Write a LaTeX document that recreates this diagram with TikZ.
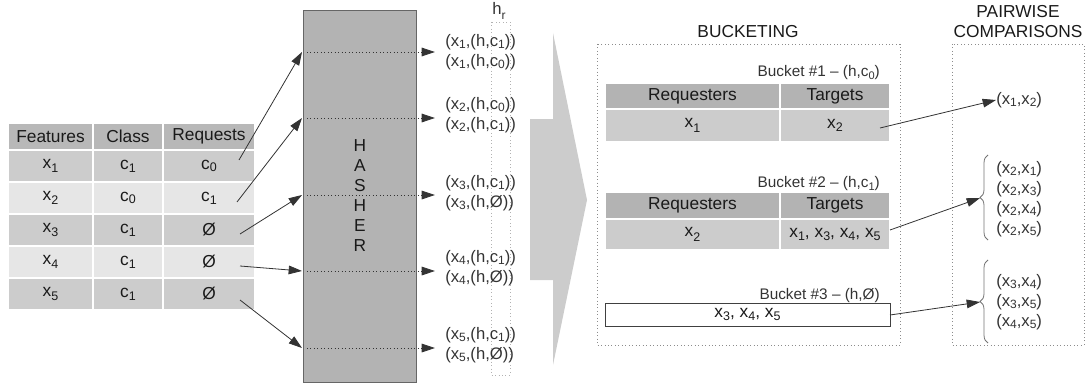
\documentclass[tikz,border=0pt]{standalone}
\usepackage{fontspec}
\setmainfont{Liberation Sans}
\usetikzlibrary{arrows.meta,decorations.pathreplacing}
\newcommand\subx[1]{\raisebox{-0.5ex}{\scalebox{0.72}{#1}}}
\newcommand\subo[1]{\raisebox{-0.3ex}{\scalebox{0.72}{#1}}}
\definecolor{hdr}{HTML}{B8B8B8}
\definecolor{rowa}{HTML}{CCCCCC}
\definecolor{rowb}{HTML}{E6E6E6}
\definecolor{hashfill}{HTML}{B3B3B3}
\definecolor{ink}{HTML}{1A1A1A}
\definecolor{lineink}{HTML}{333333}
\begin{document}
\begin{tikzpicture}[x=0.75pt,y=-0.75pt,
  cell/.style 2 args={minimum width=#1*0.75pt, minimum height=#2*0.75pt, inner sep=0pt,
    draw=white, line width=1pt, text=ink, font=\fontsize{13}{15}\selectfont},
  txt/.style={inner sep=0pt, text=lineink, font=\fontsize{12.5}{15}\selectfont},
  blabel/.style={inner sep=0pt, anchor=east, text=lineink, font=\fontsize{11.5}{14}\selectfont},
  title/.style={inner sep=0pt, text=ink, font=\fontsize{13}{15}\selectfont},
  arr/.style={draw=lineink, line width=0.6pt, -{Triangle[length=10pt,width=6.5pt]}},
  darr/.style={draw=lineink, line width=0.6pt, dotted, -{Triangle[length=10pt,width=6.5pt]}},
  frame/.style={draw=black!45, dotted, line width=0.6pt},
  brc/.style={draw=black!55, line width=0.6pt, decorate, decoration={brace, amplitude=6pt}}
]
\useasboundingbox (0,0) rectangle (1087,385);

% ---------- input table ----------
\node[cell={85}{27}, fill=hdr] (h1) at (50.5,136.5) {Features};
\node[cell={70}{27}, fill=hdr] (h2) at (128,136.5) {Class};
\node[cell={92}{27}, fill=hdr] (h3) at (209,136.5) {Requests};
\foreach \i/\y/\f/\c/\r in {1/166/rowa/c\subo{1}/c\subo{0},
                            2/198/rowb/c\subo{0}/c\subo{1},
                            3/230/rowa/c\subo{1}/Ø,
                            4/262/rowb/c\subo{1}/Ø,
                            5/294/rowa/c\subo{1}/Ø}{
  \node[cell={85}{32}, fill=\f] (f\i) at (50.5,\y) {x\subx{\i}};
  \node[cell={70}{32}, fill=\f] (c\i) at (128,\y) {\c};
  \node[cell={92}{32}, fill=\f] (r\i) at (209,\y) {\r};
}

% ---------- hasher ----------
\node[draw=black!60, fill=hashfill, line width=0.6pt, minimum width=113*0.75pt,
      minimum height=372*0.75pt, inner sep=0pt] (hasher) at (359.5,196) {};
\node[title, align=center, font=\fontsize{13}{15}\selectfont] (hlab) at (360,196)
  {H\\A\\S\\H\\E\\R};

% coordinates
\coordinate (s1) at (239,160); \coordinate (s2) at (237,202);
\coordinate (s3) at (240,234); \coordinate (s4) at (240,266);
\coordinate (s5) at (240,300);
\foreach \i/\y in {1/52,2/118,3/195,4/271,5/348}{
  \coordinate (e\i) at (302,\y);
  \coordinate (d\i) at (307,\y);
  \coordinate (o\i) at (435,\y);
}
\foreach \i in {1,...,5}{
  \draw[arr] (s\i) -- (e\i);
  \draw[darr] (d\i) -- (o\i);
}

% ---------- hashed outputs ----------
\draw[draw=black!30, dotted, line width=0.6pt] (491,22) rectangle (510,375);
\node[txt] (hr) at (499,11) {h\subx{r}};
\node[txt, anchor=west, align=left] (p1) at (445,52)
  {(x\subo{1},(h,c\subo{1}))\\(x\subo{1},(h,c\subo{0}))};
\node[txt, anchor=west, align=left] (p2) at (445,115)
  {(x\subo{2},(h,c\subo{0}))\\(x\subo{2},(h,c\subo{1}))};
\node[txt, anchor=west, align=left] (p3) at (445,193)
  {(x\subo{3},(h,c\subo{1}))\\(x\subo{3},(h,Ø))};
\node[txt, anchor=west, align=left] (p4) at (445,268)
  {(x\subo{4},(h,c\subo{1}))\\(x\subo{4},(h,Ø))};
\node[txt, anchor=west, align=left] (p5) at (445,345)
  {(x\subo{5},(h,c\subo{1}))\\(x\subo{5},(h,Ø))};

% ---------- big arrow ----------
\fill[rowa] (530,119) -- (553,119) -- (553,33) -- (587,200) -- (553,365)
  -- (553,280) -- (530,280) -- cycle;

% ---------- bucketing ----------
\draw[frame] (597,44) rectangle (900,345);
\node[title] (tb) at (748,32) {BUCKETING};

\node[blabel] (b1l) at (880,73) {Bucket \#1 -- (h,c\subo{0})};
\node[cell={175}{26}, fill=hashfill] (b1h1) at (692.5,96) {Requesters};
\node[cell={110}{26}, fill=hashfill] (b1h2) at (835,96) {Targets};
\node[cell={175}{33}, fill=rowa] (b1r1) at (692.5,125.5) {x\subx{1}};
\node[cell={110}{33}, fill=rowa] (b1r2) at (835,125.5) {x\subo{2}};

\node[blabel] (b2l) at (880,184) {Bucket \#2 -- (h,c\subo{1})};
\node[cell={175}{27}, fill=hashfill] (b2h1) at (692.5,205.5) {Requesters};
\node[cell={110}{27}, fill=hashfill] (b2h2) at (835,205.5) {Targets};
\node[cell={175}{31}, fill=rowa] (b2r1) at (692.5,234.5) {x\subx{2}};
\node[cell={110}{31}, fill=rowa] (b2r2) at (835,234.5) {x\subo{1}, x\subo{3}, x\subo{4}, x\subo{5}};

\node[blabel] (b3l) at (880,296) {Bucket \#3 -- (h,Ø)};
\node[cell={285}{23}, fill=white, draw=black!75, line width=0.6pt] (b3) at (747.5,314.5)
  {x\subo{3}, x\subo{4}, x\subo{5}};

% ---------- pairwise ----------
\draw[frame] (952,44) rectangle (1084,345);
\node[title, align=center, font=\fontsize{13}{15}\selectfont] (tp) at (1018,22)
  {PAIRWISE\\COMPARISONS};

\node[txt, anchor=west] (q1) at (996,100) {(x\subo{1},x\subo{2})};
\node[txt, anchor=west, align=left] (q2) at (996,199)
  {(x\subo{2},x\subo{1})\\(x\subo{2},x\subo{3})\\(x\subo{2},x\subo{4})\\(x\subo{2},x\subo{5})};
\node[txt, anchor=west, align=left] (q3) at (996,302)
  {(x\subo{3},x\subo{4})\\(x\subo{3},x\subo{5})\\(x\subo{4},x\subo{5})};

\coordinate (br2a) at (988,240); \coordinate (br2b) at (988,155);
\coordinate (br3a) at (988,343); \coordinate (br3b) at (988,260);
\draw[brc] (br2a) -- (br2b);
\draw[brc] (br3a) -- (br3b);
\coordinate (tip2) at (980,198);
\coordinate (tip3) at (980,302);

\coordinate (u1) at (880,128);
\coordinate (u2) at (890,230);
\coordinate (u3) at (890,315);
\draw[arr] (u1) -- (q1.west);
\draw[arr] (u2) -- (tip2);
\draw[arr] (u3) -- (tip3);
\end{tikzpicture}
\end{document}
